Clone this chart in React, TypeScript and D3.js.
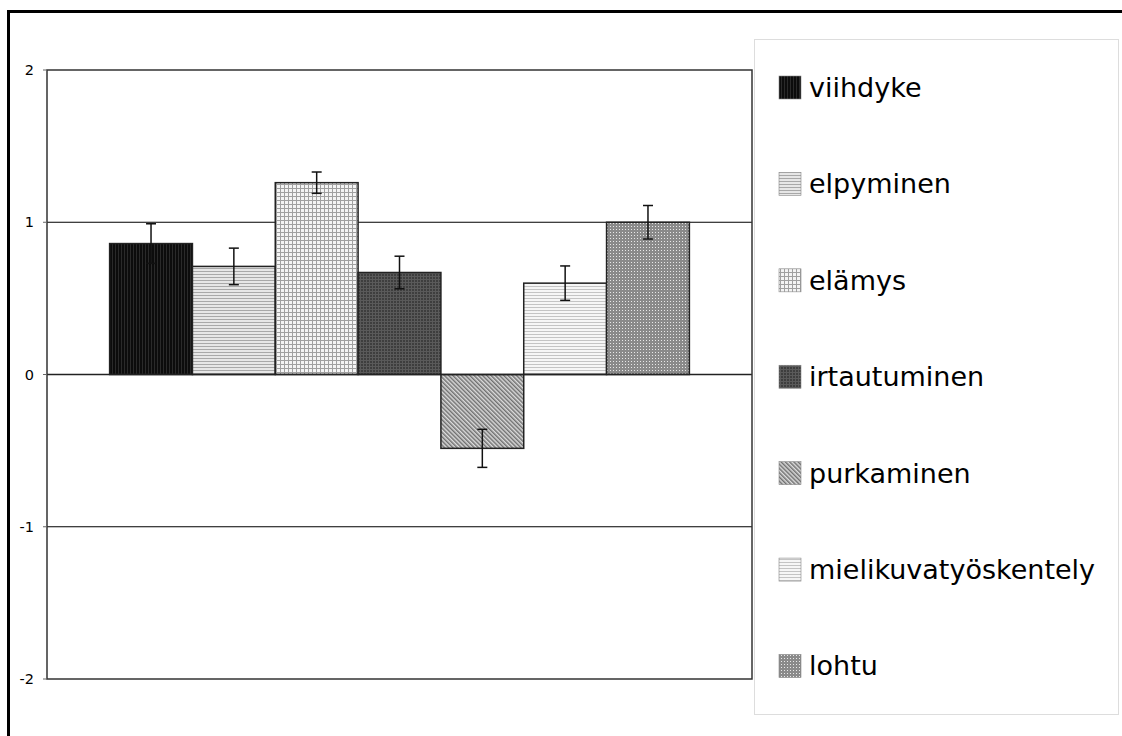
import React from "react";
import * as d3 from "d3";

const categories = ["viihdyke", "elpyminen", "elämys", "irtautuminen", "purkaminen", "mielikuvatyöskentely", "lohtu"];
const values = [0.86, 0.71, 1.26, 0.67, -0.485, 0.60, 1.0];
const errors = [0.13, 0.12, 0.07, 0.107, 0.125, 0.113, 0.11];
const yTicks = [-2, -1, 0, 1, 2];
const gridLines = [-1, 1];

const W = 1122, H = 736;
const plot = { left: 47, right: 752, top: 70, bottom: 679 };

function Patterns() {
  return (
    <defs>
      <pattern id="p0" width="3" height="3" patternUnits="userSpaceOnUse">
        <rect width="3" height="3" fill="#0c0c0c" />
        <rect x="1" width="1" height="3" fill="#2a2a2a" />
      </pattern>
      <pattern id="p1" width="3" height="3" patternUnits="userSpaceOnUse">
        <rect width="3" height="3" fill="#e6e6e6" />
        <rect y="1" width="3" height="1" fill="#a8a8a8" />
      </pattern>
      <pattern id="p2" width="4" height="4" patternUnits="userSpaceOnUse">
        <rect width="4" height="4" fill="#f4f4f4" />
        <rect width="4" height="1" fill="#a0a0a0" />
        <rect width="1" height="4" fill="#a0a0a0" />
      </pattern>
      <pattern id="p3" width="3" height="3" patternUnits="userSpaceOnUse">
        <rect width="3" height="3" fill="#3e3e3e" />
        <rect width="3" height="1" fill="#5a5a5a" />
        <rect width="1" height="3" fill="#5a5a5a" />
      </pattern>
      <pattern id="p4" width="3" height="3" patternUnits="userSpaceOnUse" patternTransform="rotate(-45)">
        <rect width="3" height="3" fill="#dcdcdc" />
        <rect width="1.5" height="3" fill="#707070" />
      </pattern>
      <pattern id="p5" width="3" height="3" patternUnits="userSpaceOnUse">
        <rect width="3" height="3" fill="#f6f6f6" />
        <rect y="1" width="3" height="1" fill="#c4c4c4" />
      </pattern>
      <pattern id="p6" width="3" height="3" patternUnits="userSpaceOnUse">
        <rect width="3" height="3" fill="#8a8a8a" />
        <rect x="1" y="1" width="1" height="1" fill="#e8e8e8" />
      </pattern>
    </defs>
  );
}

export default function App() {
  const y = d3.scaleLinear().domain([-2, 2]).range([plot.bottom, plot.top]);
  const outer = d3.scaleBand().domain(["g"]).range([plot.left, plot.right]).paddingInner(0).paddingOuter(0.108);
  const gx = outer("g") as number;
  const x = d3.scaleBand().domain(categories).range([gx, gx + outer.bandwidth()]).padding(0);
  const bw = x.bandwidth();
  const legendY = d3.scalePoint().domain(categories).range([87.5, 666]);

  return (
    <svg width={W} height={H} style={{ position: "absolute", left: 0, top: 0, background: "#fff" }}
      fontFamily="DejaVu Sans, Verdana, sans-serif">
      <Patterns />
      <rect x={8.5} y={11.5} width={W + 20} height={H + 20} fill="none" stroke="#000" strokeWidth={3} />
      {gridLines.map((g) => (
        <line key={g} x1={plot.left} x2={plot.right} y1={y(g)} y2={y(g)} stroke="#000" strokeWidth={1.2} />
      ))}
      {categories.map((c, i) => {
        const v = values[i];
        const x0 = x(c) as number;
        const top = y(Math.max(0, v));
        const bot = y(Math.min(0, v));
        const cx = x0 + bw / 2;
        return (
          <g key={c}>
            <rect x={x0} y={top} width={bw} height={bot - top} fill={`url(#p${i})`} stroke="#222" strokeWidth={1.5} />
            <line x1={cx} x2={cx} y1={y(v + errors[i])} y2={y(v - errors[i])} stroke="#111" strokeWidth={1.5} />
            <line x1={cx - 5} x2={cx + 5} y1={y(v + errors[i])} y2={y(v + errors[i])} stroke="#111" strokeWidth={1.5} />
            <line x1={cx - 5} x2={cx + 5} y1={y(v - errors[i])} y2={y(v - errors[i])} stroke="#111" strokeWidth={1.5} />
          </g>
        );
      })}
      <line x1={plot.left} x2={plot.right} y1={y(0)} y2={y(0)} stroke="#222" strokeWidth={1.5} />
      <rect x={plot.left} y={plot.top} width={plot.right - plot.left} height={plot.bottom - plot.top}
        fill="none" stroke="#333" strokeWidth={1.5} />
      {yTicks.map((t) => (
        <g key={t}>
          <line x1={plot.left - 4} x2={plot.left} y1={y(t)} y2={y(t)} stroke="#666" strokeWidth={1} />
          <text x={plot.left - 13} y={y(t)} dy="0.35em" textAnchor="end" fontSize={14.5} fill="#000">{t}</text>
        </g>
      ))}
      <rect x={754.5} y={39.5} width={364} height={675} fill="#fff" stroke="#ddd" strokeWidth={1} />
      {categories.map((c, i) => {
        const cy = legendY(c) as number;
        return (
          <g key={c}>
            <rect x={779} y={cy - 11.5} width={22} height={23} fill={`url(#p${i})`} stroke="#888" strokeWidth={0.6} />
            <text x={809} y={cy} dy="0.35em" fontSize={27} fill="#000">{c}</text>
          </g>
        );
      })}
    </svg>
  );
}
